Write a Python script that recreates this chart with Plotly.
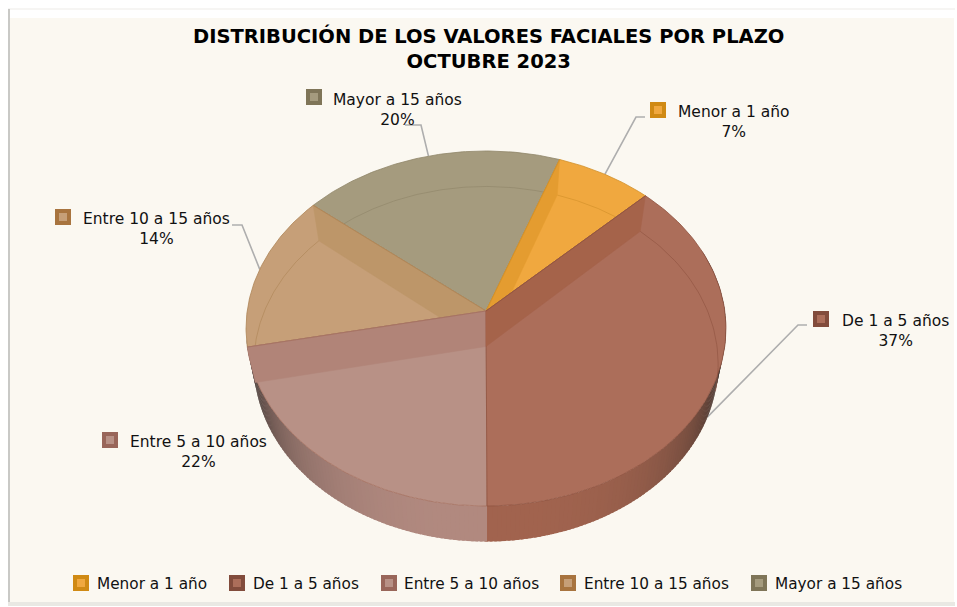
import numpy as np
import plotly.graph_objects as go

categories = ["Menor a 1 año", "De 1 a 5 años", "Entre 5 a 10 años", "Entre 10 a 15 años", "Mayor a 15 años"]
values = [7.2, 37.4, 21.9, 14.3, 19.5]
pct_labels = ["7%", "37%", "22%", "14%", "20%"]
top_colors = ["#f0a83f", "#ac6e5a", "#b89186", "#c69f78", "#a59b7e"]
wall_colors = ["#e49c30", "#a5634a", "#b18478", "#bd9669", "#a59b7e"]
rim_colors = ["#e49c30", "#a2644f", "#b28a80", "#bd9669", "#a59b7e"]
edge_colors = ["#d08f28", "#8f5340", "#a5705f", "#ad8456", "#8f8568"]
key_colors = ["#d08a14", "#824c3c", "#99665a", "#a8743f", "#7f7558"]
START = 19.7
title_lines = ["DISTRIBUCIÓN DE LOS VALORES FACIALES POR PLAZO", "OCTUBRE 2023"]

FONT = "DejaVu Sans"
BG = "#fbf8f1"
CX, TOP_Y, BOT_Y = 486.0, 311.0, 346.5
A_TOP, A_BOT, B, K = 238.8, 231.0, 175.8, 0.0986


def proj(theta_deg, y0=TOP_Y):
    t = np.radians(theta_deg)
    u, v = np.sin(t), np.cos(t)
    d = 1 + K * v
    a = A_TOP if y0 == TOP_Y else A_BOT
    return CX + a * u / d, y0 - B * v / d


def hex2rgb(h):
    return np.array([int(h[i:i + 2], 16) for i in (1, 3, 5)], float)


def mix(c1, c2, s):
    c = hex2rgb(c1) * (1 - s) + hex2rgb(c2) * s
    return "rgb(%d,%d,%d)" % tuple(c)


fracs = np.array(values) / sum(values) * 360
starts = START + np.concatenate([[0], np.cumsum(fracs)[:-1]])
ends = starts + fracs
mids = (starts + ends) / 2

fig = go.Figure()


def poly(xs, ys, fill, line=None, width=1.0):
    fig.add_trace(go.Scatter(x=list(xs), y=list(ys), mode="lines", fill="toself", fillcolor=fill,
                             line=dict(color=line or fill, width=width), hoverinfo="skip", showlegend=False))


def path(xs, ys, color, width=1.0):
    fig.add_trace(go.Scatter(x=list(xs), y=list(ys), mode="lines", line=dict(color=color, width=width),
                             hoverinfo="skip", showlegend=False))


# leader lines (under the pie)
elbows = {0: [(636, 117), (645, 117)], 1: [(798, 325), (807, 325)],
          3: [(242, 225), (232, 225)], 4: [(421, 125), (405, 125)]}
for i, pts in elbows.items():
    y0 = BOT_Y if i == 1 else TOP_Y
    x0, yy0 = proj(mids[i], y0)
    path([x0] + [p[0] for p in pts], [yy0] + [p[1] for p in pts], "#aeaeae", 1.6)

# side rim: one wide band per slice, shaded step by step towards the silhouette
for i in range(5):
    steps = np.append(np.arange(starts[i], ends[i], 1.0), ends[i])
    for t0, t1 in zip(steps[:-1], steps[1:]):
        tm = ((t0 + t1) / 2) % 360
        if tm < 70 or tm > ends[2] + 2:
            continue
        s = np.clip(abs(tm - 180) / 80, 0, 1) ** 2.6
        col = mix(rim_colors[i], "#2e2a28", float(s))
        x1, y1 = proj(t0, TOP_Y)
        x2, y2 = proj(t1 + 0.6, TOP_Y)
        x3, y3 = proj(t1 + 0.6, BOT_Y)
        x4, y4 = proj(t0, BOT_Y)
        poly([x1, x2, x3, x4, x1], [y1, y2, y3, y4, y1], col, col, 0.0)

# faces in painter order; each wall is painted before the face that may cover its overhang
order = [4, 0, 3, 2, 1]
wall_angle = {0: starts[0], 3: ends[3], 2: ends[2], 1: starts[1]}
for i in order:
    th = np.linspace(starts[i], ends[i], 90)
    xs, ys = proj(th)
    poly(np.r_[CX, xs, CX], np.r_[TOP_Y, ys, TOP_Y], top_colors[i], edge_colors[i], 0.8)
    # far arc of the base, seen through the face
    back = th[(np.mod(th, 360) < 105) | (np.mod(th, 360) > 262)]
    if len(back):
        bx, by = proj(back, BOT_Y)
        path(bx, by, edge_colors[i], 0.6)
    if i in wall_angle:
        x1, y1 = proj(wall_angle[i], TOP_Y)
        x2, y2 = proj(wall_angle[i], BOT_Y)
        poly([CX, x1, x2, CX, CX], [TOP_Y, y1, y2, BOT_Y, TOP_Y], wall_colors[i], wall_colors[i], 0.5)
        path([CX, x1], [TOP_Y, y1], edge_colors[i], 0.8)

# data label keys + text
label_keys = [(658, 110), (821, 319), (110, 440), (63, 217), (314, 97)]
label_text = [(734, 122), (895, 331), (198, 452), (156, 229), (397, 110)]
legend_keys = [(81, 583), (237, 583), (389, 583), (568, 583), (759, 583)]
legend_text_x = [95, 251, 402, 582, 773]


def key_trace(i, pt):
    fig.add_trace(go.Scatter(x=[pt[0]], y=[pt[1]], mode="markers", hoverinfo="skip", showlegend=False,
                             marker=dict(symbol="square", size=12, color=top_colors[i],
                                         line=dict(color=key_colors[i], width=4))))


annos = []
for i, c in enumerate(categories):
    key_trace(i, label_keys[i])
    key_trace(i, legend_keys[i])
    annos.append(dict(x=label_text[i][0], y=label_text[i][1], text=c + "<br>" + pct_labels[i], showarrow=False,
                      xref="x", yref="y", xanchor="center", yanchor="middle", align="center",
                      font=dict(family=FONT, size=15.5, color="#111111")))
    annos.append(dict(x=legend_text_x[i], y=584, text=c, showarrow=False, xref="x", yref="y",
                      xanchor="left", yanchor="middle", font=dict(family=FONT, size=15.3, color="#111111")))
annos.append(dict(x=488, y=48, text="<b>" + "<br>".join(title_lines) + "</b>", showarrow=False, xref="x", yref="y",
                  xanchor="center", yanchor="middle", align="center",
                  font=dict(family=FONT, size=19.5, color="#000000")))

shapes = [
    dict(type="rect", x0=8, y0=8, x1=955, y1=604, line_width=0, fillcolor="#f6f5f3", layer="below"),
    dict(type="rect", x0=8, y0=10, x1=955, y1=604, line_width=0, fillcolor="#ffffff", layer="below"),
    dict(type="rect", x0=8, y0=9, x1=10, y1=604, line_width=0, fillcolor="#c9c9c6", layer="below"),
    dict(type="rect", x0=10, y0=18, x1=954, y1=602, line_width=0, fillcolor=BG, layer="below"),
    dict(type="rect", x0=8, y0=602, x1=955, y1=606, line_width=0, fillcolor="#e9e8e3", layer="below"),
]

fig.update_layout(
    width=957, height=607, margin=dict(l=0, r=0, t=0, b=0), showlegend=False,
    paper_bgcolor="#ffffff", plot_bgcolor="#ffffff",
    xaxis=dict(range=[0, 957], visible=False, fixedrange=True),
    yaxis=dict(range=[607, 0], visible=False, fixedrange=True),
    annotations=annos, shapes=shapes,
)
fig.write_html("out.html", config={"displayModeBar": False},
               post_script="document.body.style.margin='0';")
